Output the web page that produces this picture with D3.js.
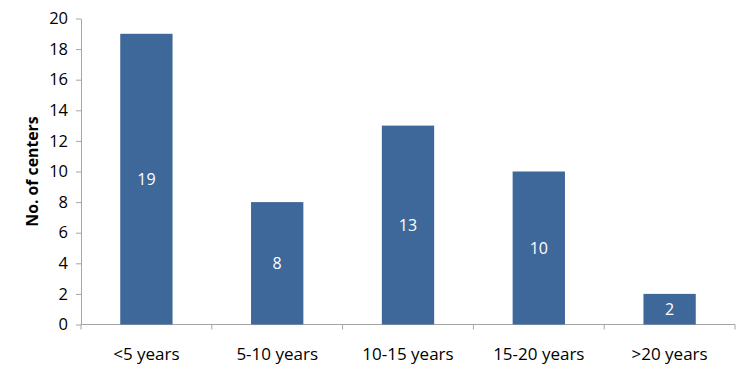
<!DOCTYPE html>
<html>
<head>
<meta charset="utf-8">
<script src="https://cdn.jsdelivr.net/npm/d3@7"></script>
<style>
  body { margin: 0; background: #fff; }
  svg { display: block; }
</style>
</head>
<body>
<div class="box"></div>
<script>
// Data
const categories = ["<5 years", "5-10 years", "10-15 years", "15-20 years", ">20 years"];
const centers = [19, 8, 13, 10, 2];
const yTicks = [0, 2, 4, 6, 8, 10, 12, 14, 16, 18, 20];

const w = 746;
const h = 370;
const margin = {top: 18.5, right: 11, bottom: 45.5, left: 81};
const font = "'Open Sans', sans-serif";

const svg = d3.select(".box")
    .append("svg")
    .attr("width", w)
    .attr("height", h);

const x = d3.scaleBand()
    .domain(categories)
    .range([margin.left, w - margin.right])
    .paddingInner(0.6)
    .paddingOuter(0.3);

const y = d3.scaleLinear()
    .domain([0, 20])
    .range([h - margin.bottom, margin.top]);

// Y axis
const yAxis = svg.append("g")
    .attr("transform", "translate(" + margin.left + ",0)")
    .call(d3.axisLeft(y).tickValues(yTicks).tickSize(5).tickSizeOuter(0).tickPadding(8));

// X axis, ticks sit between categories
const step = x.step();
const xAxis = svg.append("g")
    .attr("transform", "translate(0," + y(0) + ")");
xAxis.append("line")
    .attr("x1", margin.left).attr("x2", w - margin.right)
    .attr("stroke", "#a6a6a6");
xAxis.selectAll(".sep")
    .data(d3.range(categories.length + 1))
    .enter()
    .append("line")
    .attr("x1", i => margin.left + i * step)
    .attr("x2", i => margin.left + i * step)
    .attr("y2", 5)
    .attr("stroke", "#a6a6a6");
xAxis.selectAll(".lbl")
    .data(categories)
    .enter()
    .append("text")
    .attr("x", d => x(d) + x.bandwidth() / 2)
    .attr("y", 35)
    .attr("text-anchor", "middle")
    .style("font-family", font)
    .style("font-size", "17px")
    .style("fill", "#000")
    .text(d => d);

yAxis.select(".domain").attr("stroke", "#a6a6a6");
yAxis.selectAll(".tick line").attr("stroke", "#a6a6a6");
yAxis.selectAll(".tick text")
    .style("font-family", font)
    .style("font-size", "16.5px")
    .style("fill", "#000");

// Bars
svg.selectAll(".bar")
    .data(centers)
    .enter()
    .append("rect")
    .attr("class", "bar")
    .attr("x", (d, i) => x(categories[i]))
    .attr("y", d => y(d))
    .attr("width", x.bandwidth())
    .attr("height", d => y(0) - y(d))
    .attr("fill", "#3e6899");

// Value labels inside bars
svg.selectAll(".val")
    .data(centers)
    .enter()
    .append("text")
    .attr("x", (d, i) => x(categories[i]) + x.bandwidth() / 2)
    .attr("y", d => (y(d) + y(0)) / 2)
    .attr("dy", "0.35em")
    .attr("text-anchor", "middle")
    .style("font-family", font)
    .style("font-size", "16px")
    .style("fill", "#fff")
    .text(d => d);

// Y label
svg.append("text")
    .attr("transform", "translate(38," + ((y(0) + y(20)) / 2) + ") rotate(-90)")
    .attr("text-anchor", "middle")
    .style("font-family", font)
    .style("font-size", "15.8px")
    .style("font-weight", "bold")
    .style("fill", "#000")
    .text("No. of centers");
</script>
</body>
</html>
